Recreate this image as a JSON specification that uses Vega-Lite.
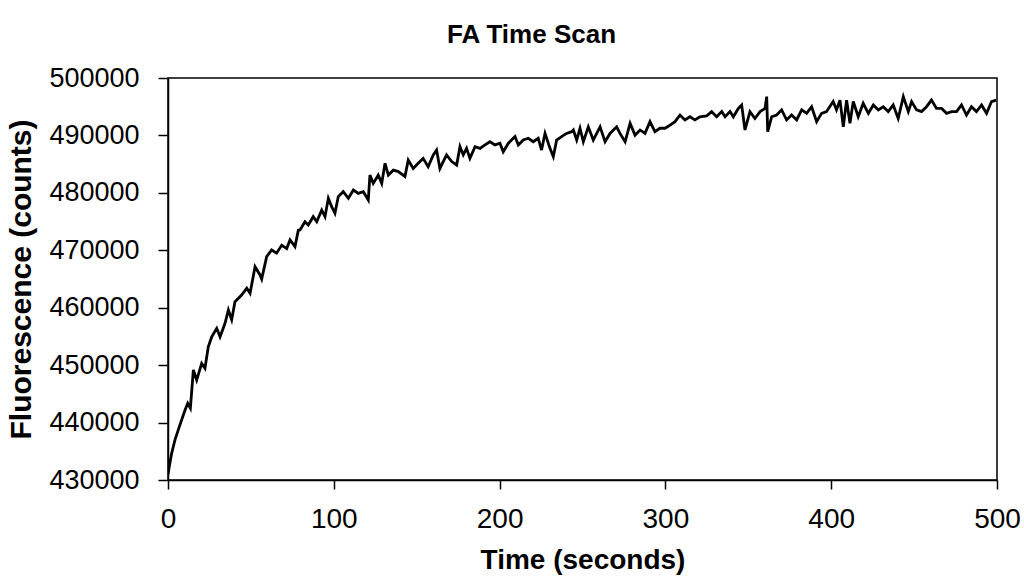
{
  "$schema": "https://vega.github.io/schema/vega-lite/v6.json",
  "autosize": {"type": "none"},
  "width": 829,
  "height": 402,
  "padding": {"left": 168, "top": 78, "right": 27, "bottom": 106},
  "background": "white",
  "config": {
    "font": "Liberation Sans",
    "view": {"stroke": "black", "strokeWidth": 1.5}
  },
  "title": {
    "text": "FA Time Scan",
    "font": "Liberation Sans",
    "fontSize": 26,
    "fontWeight": "bold",
    "color": "black",
    "anchor": "middle",
    "frame": "group",
    "offset": 16,
    "dx": -51
  },
  "data": {
    "values": [
      {"t": 0, "v": 431000}, {"t": 0.6, "v": 432050}, {"t": 2.2, "v": 434650}, {"t": 4.2, "v": 437000},
      {"t": 7.2, "v": 439600}, {"t": 10.3, "v": 442200}, {"t": 11.9, "v": 443350}, {"t": 13.5, "v": 442500},
      {"t": 15.3, "v": 449160}, {"t": 17.3, "v": 447400}, {"t": 20.3, "v": 450300}, {"t": 22.3, "v": 449450},
      {"t": 24.3, "v": 453200}, {"t": 26.4, "v": 454950}, {"t": 29.4, "v": 456400}, {"t": 31.4, "v": 454950},
      {"t": 34.4, "v": 457300}, {"t": 36.4, "v": 459600}, {"t": 38.4, "v": 457900}, {"t": 40.4, "v": 461050},
      {"t": 44.4, "v": 462200}, {"t": 47.5, "v": 463400}, {"t": 49.5, "v": 462500}, {"t": 52.5, "v": 467150},
      {"t": 55.5, "v": 465700}, {"t": 56.5, "v": 465000}, {"t": 59.5, "v": 468900}, {"t": 62.5, "v": 470050},
      {"t": 65.5, "v": 469500}, {"t": 68.6, "v": 470900}, {"t": 71.6, "v": 470300}, {"t": 73.6, "v": 471800},
      {"t": 76.6, "v": 470650}, {"t": 78.6, "v": 473500}, {"t": 79.6, "v": 473550}, {"t": 82.6, "v": 474980},
      {"t": 84.6, "v": 474400}, {"t": 87.6, "v": 475850}, {"t": 89.7, "v": 474980}, {"t": 92.7, "v": 477000},
      {"t": 94.7, "v": 475850}, {"t": 96.7, "v": 479050}, {"t": 98.7, "v": 477600}, {"t": 100.7, "v": 476450},
      {"t": 102.7, "v": 479350}, {"t": 105.7, "v": 480200}, {"t": 108.8, "v": 479050}, {"t": 111.8, "v": 480500},
      {"t": 114.8, "v": 479900}, {"t": 117.8, "v": 480200}, {"t": 120.8, "v": 478750}, {"t": 121.8, "v": 483100},
      {"t": 123.8, "v": 481650}, {"t": 126.8, "v": 483100}, {"t": 128.9, "v": 481650}, {"t": 130.9, "v": 485150},
      {"t": 132.9, "v": 483100}, {"t": 135.9, "v": 483950}, {"t": 138.9, "v": 483700}, {"t": 142.9, "v": 482850},
      {"t": 144.9, "v": 485700}, {"t": 147.9, "v": 484250}, {"t": 150.9, "v": 485150}, {"t": 153.9, "v": 486000},
      {"t": 156.9, "v": 484550}, {"t": 160, "v": 486600}, {"t": 162, "v": 487450}, {"t": 164, "v": 484250},
      {"t": 168, "v": 486600}, {"t": 171.1, "v": 485450}, {"t": 174.1, "v": 484850}, {"t": 176.1, "v": 488050},
      {"t": 178.1, "v": 486600}, {"t": 180.1, "v": 487750}, {"t": 182.1, "v": 486000}, {"t": 185.2, "v": 488050},
      {"t": 188.2, "v": 487750}, {"t": 191.2, "v": 488350}, {"t": 194.2, "v": 488900}, {"t": 197.2, "v": 488350},
      {"t": 200.2, "v": 488650}, {"t": 202.2, "v": 487150}, {"t": 205.3, "v": 488650}, {"t": 209.3, "v": 489800},
      {"t": 211.3, "v": 488350}, {"t": 214.3, "v": 489200}, {"t": 217.3, "v": 489500}, {"t": 220.3, "v": 488900},
      {"t": 223.3, "v": 489500}, {"t": 225.3, "v": 487450}, {"t": 227.4, "v": 490350}, {"t": 230.4, "v": 487750},
      {"t": 232.4, "v": 486300}, {"t": 234.4, "v": 489200}, {"t": 237.4, "v": 489800}, {"t": 240.4, "v": 490350},
      {"t": 243.5, "v": 490650}, {"t": 244.5, "v": 490950}, {"t": 246.5, "v": 489200}, {"t": 248.5, "v": 491250},
      {"t": 250.5, "v": 488900}, {"t": 253.5, "v": 491500}, {"t": 256.5, "v": 489200}, {"t": 260.6, "v": 491500},
      {"t": 263.6, "v": 488900}, {"t": 266.6, "v": 490350}, {"t": 270.6, "v": 491500}, {"t": 272.6, "v": 490350},
      {"t": 275.7, "v": 488900}, {"t": 278.7, "v": 492100}, {"t": 281.7, "v": 490050}, {"t": 284.7, "v": 490950},
      {"t": 287.7, "v": 490350}, {"t": 290.7, "v": 492400}, {"t": 293.7, "v": 490650}, {"t": 296.7, "v": 491250},
      {"t": 299.8, "v": 491250}, {"t": 302.8, "v": 491800}, {"t": 305.8, "v": 492400}, {"t": 308.8, "v": 493550},
      {"t": 311.8, "v": 492700}, {"t": 314.8, "v": 493250}, {"t": 317.8, "v": 492700}, {"t": 320.8, "v": 493250},
      {"t": 324.9, "v": 493400}, {"t": 327.9, "v": 494150}, {"t": 330.9, "v": 493250}, {"t": 334, "v": 494150},
      {"t": 336, "v": 493250}, {"t": 339, "v": 494150}, {"t": 341, "v": 493250}, {"t": 344, "v": 494700},
      {"t": 346, "v": 495300}, {"t": 348, "v": 490950}, {"t": 351, "v": 494150}, {"t": 354, "v": 492950},
      {"t": 357.1, "v": 494150}, {"t": 360.1, "v": 494700}, {"t": 361.1, "v": 496750}, {"t": 361.7, "v": 490650},
      {"t": 364.1, "v": 493250}, {"t": 367.1, "v": 493550}, {"t": 370.1, "v": 494450}, {"t": 373.1, "v": 492700},
      {"t": 376.1, "v": 493550}, {"t": 379.2, "v": 492700}, {"t": 382.2, "v": 494450}, {"t": 385.2, "v": 493850},
      {"t": 388.2, "v": 495000}, {"t": 391.2, "v": 492400}, {"t": 394.2, "v": 493850}, {"t": 397.2, "v": 494150},
      {"t": 401.2, "v": 495900}, {"t": 403.2, "v": 494450}, {"t": 405.3, "v": 496150}, {"t": 407.3, "v": 491500},
      {"t": 409.3, "v": 496150}, {"t": 411.3, "v": 492100}, {"t": 413.3, "v": 495900}, {"t": 416.3, "v": 493250},
      {"t": 419.3, "v": 495600}, {"t": 422.4, "v": 493850}, {"t": 425.4, "v": 495300}, {"t": 428.4, "v": 494450},
      {"t": 431.4, "v": 495000}, {"t": 434.4, "v": 494150}, {"t": 437.4, "v": 495300}, {"t": 440.4, "v": 492950},
      {"t": 443.5, "v": 496750}, {"t": 446.5, "v": 494150}, {"t": 448.5, "v": 495900}, {"t": 451.5, "v": 494450},
      {"t": 454.5, "v": 494150}, {"t": 457.5, "v": 495000}, {"t": 460.5, "v": 496150}, {"t": 463.5, "v": 494700},
      {"t": 466.6, "v": 494700}, {"t": 469.6, "v": 493850}, {"t": 472.6, "v": 494150}, {"t": 475.6, "v": 494150},
      {"t": 478.6, "v": 495300}, {"t": 481.6, "v": 493550}, {"t": 484.6, "v": 495000}, {"t": 487.6, "v": 494150},
      {"t": 490.7, "v": 495300}, {"t": 493.7, "v": 493850}, {"t": 496.7, "v": 495900}, {"t": 499.5, "v": 496150}
    ]
  },
  "mark": {"type": "line", "color": "black", "strokeWidth": 2.8, "clip": true},
  "encoding": {
    "x": {
      "field": "t",
      "type": "quantitative",
      "scale": {"domain": [0, 500], "nice": false, "zero": false},
      "axis": {
        "title": "Time (seconds)",
        "values": [0, 100, 200, 300, 400, 500],
        "grid": false,
        "domainColor": "black",
        "domainWidth": 1.5,
        "tickColor": "black",
        "tickWidth": 1.5,
        "tickSize": 9,
        "labelFont": "Liberation Sans",
        "labelFontSize": 28,
        "labelColor": "black",
        "labelPadding": 16,
        "labelFlush": false,
        "titleFont": "Liberation Sans",
        "titleFontSize": 28,
        "titleFontWeight": "bold",
        "titleColor": "black",
        "titleY": 80,
        "titleBaseline": "middle"
      }
    },
    "y": {
      "field": "v",
      "type": "quantitative",
      "scale": {"domain": [430000, 500000], "nice": false, "zero": false},
      "axis": {
        "title": "Fluorescence (counts)",
        "values": [430000, 440000, 450000, 460000, 470000, 480000, 490000, 500000],
        "format": "d",
        "grid": false,
        "domainColor": "black",
        "domainWidth": 1.5,
        "tickColor": "black",
        "tickWidth": 1.5,
        "tickSize": 10,
        "labelFont": "Liberation Sans",
        "labelFontSize": 27,
        "labelColor": "black",
        "labelPadding": 19,
        "labelFlush": false,
        "titleFont": "Liberation Sans",
        "titleFontSize": 30,
        "titleFontWeight": "bold",
        "titleColor": "black",
        "titleX": -147,
        "titleY": 201,
        "titleAngle": -90,
        "titleAlign": "center",
        "titleBaseline": "middle"
      }
    }
  }
}
